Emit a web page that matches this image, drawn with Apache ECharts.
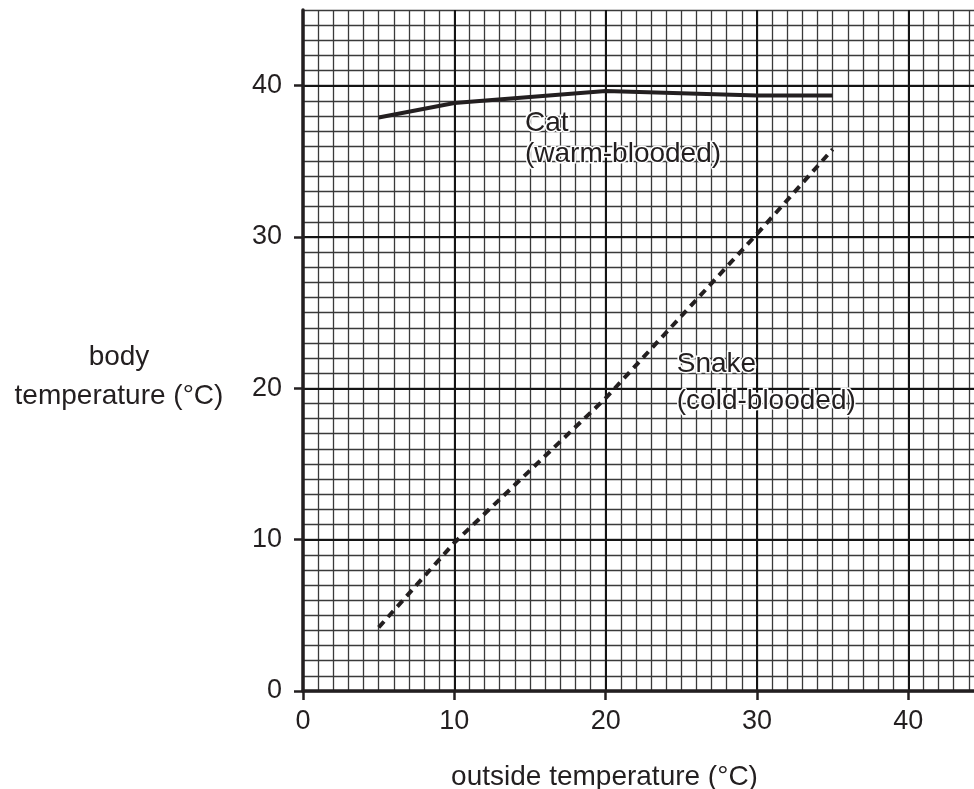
<!DOCTYPE html>
<html>
<head>
<meta charset="utf-8">
<script src="https://cdn.jsdelivr.net/npm/echarts@6/dist/echarts.min.js"></script>
<style>
html,body{margin:0;padding:0;background:#ffffff;}
#chart{width:974px;height:789px;}
</style>
</head>
<body>
<div id="chart"></div>
<script>
// ---- data ----
const xTicks = [0, 10, 20, 30, 40];
const yTicks = [0, 10, 20, 30, 40];
const outsideTemp = [5, 10, 20, 30, 35];
const catBody = [37.9, 38.85, 39.65, 39.35, 39.35];
const snakeBody = [4.2, 9.8, 19.35, 30.2, 35.8];
const annoText = ['Cat', '(warm-blooded)', 'Snake', '(cold-blooded)'];
const annoX = [14.67, 14.67, 24.7, 24.7];
const annoY = [37.51, 35.49, 21.59, 19.17];
const xTitle = 'outside temperature (°C)';
const yTitle = 'body\ntemperature (°C)';

const INK = '#231f20';
const FONT = '"Liberation Sans", Arial, Helvetica, sans-serif';

const chart = echarts.init(document.getElementById('chart'), null, {renderer: 'canvas'});

function majorAxis(ticks, isX) {
  const ax = {
    type: 'value', min: 0, max: 45, interval: 10, z: 1,
    position: isX ? 'bottom' : 'left',
    axisLine: {show: true, onZero: false, lineStyle: {color: INK, width: 3.5}},
    axisTick: {show: true, inside: false, length: 9, customValues: ticks,
               lineStyle: {color: INK, width: 2.5}},
    axisLabel: {show: true, customValues: ticks, margin: isX ? 17 : 21,
                fontSize: 27, fontFamily: FONT, color: INK,
                padding: isX ? 0 : [4, 0, 0, 0]},
    splitLine: {show: true, lineStyle: {color: '#141414', width: 2}}
  };
  if (isX) {
    ax.name = xTitle;
    ax.nameLocation = 'middle';
    ax.nameGap = 72;
    ax.nameTextStyle = {fontSize: 28, fontFamily: FONT, color: INK, padding: [0, 78, 0, 0]};
  }
  return ax;
}
function minorAxis(isX) {
  return {
    type: 'value', min: 0, max: 45, interval: 1, z: 0,
    position: isX ? 'top' : 'right',
    axisLine: {show: false}, axisTick: {show: false}, axisLabel: {show: false},
    splitLine: {show: true, lineStyle: {color: '#3a3a3a', width: 1.3}}
  };
}

const option = {
  backgroundColor: '#ffffff',
  animation: false,
  grid: {left: 303, top: 10, width: 681, height: 681, containLabel: false,
         outerBoundsMode: 'none'},
  xAxis: [majorAxis(xTicks, true), minorAxis(true)],
  yAxis: [majorAxis(yTicks, false), minorAxis(false)],
  graphic: [{
    type: 'text', left: 'auto', x: 119, y: 377, silent: true,
    style: {text: yTitle, fontSize: 28, fontFamily: FONT, fill: INK,
            align: 'center', verticalAlign: 'middle', lineHeight: 39}
  }],
  series: [
    {
      name: 'Cat', type: 'line', xAxisIndex: 0, yAxisIndex: 0, z: 5,
      symbol: 'none', silent: true,
      data: outsideTemp.map((x, i) => [x, catBody[i]]),
      lineStyle: {color: INK, width: 4, cap: 'butt', join: 'miter'}
    },
    {
      name: 'Snake', type: 'line', xAxisIndex: 0, yAxisIndex: 0, z: 5,
      symbol: 'none', silent: true,
      data: outsideTemp.map((x, i) => [x, snakeBody[i]]),
      lineStyle: {color: INK, width: 4, type: [8, 6], cap: 'butt'}
    },
    {
      name: 'labels', type: 'scatter', xAxisIndex: 0, yAxisIndex: 0, z: 6,
      symbolSize: 0, silent: true,
      itemStyle: {opacity: 1},
      data: annoText.map((t, i) => ({name: t, value: [annoX[i], annoY[i]]})),
      label: {
        show: true, position: 'right', distance: 0, opacity: 1,
        formatter: p => p.name,
        fontSize: 28, fontFamily: FONT, color: INK,
        align: 'left', verticalAlign: 'middle',
        textBorderColor: '#ffffff', textBorderWidth: 3
      }
    }
  ]
};
chart.setOption(option);
</script>
</body>
</html>
